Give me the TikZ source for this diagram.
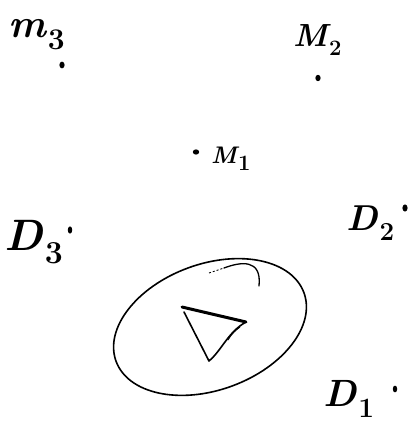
\documentclass[tikz,border=0pt]{standalone}
\usepackage{fontspec}
\newcommand\mylab[4]{\fontsize{#1}{#1}\selectfont\bfseries\itshape #3\kern0.05em\raisebox{-0.3em}{\fontsize{#2}{#2}\selectfont\bfseries\upshape #4}}
\begin{document}
\begin{tikzpicture}[x=1pt,y=-1pt,
  lbl/.style={inner sep=0pt,anchor=base west},
  stroke/.style={line width=1.6pt,line cap=round,line join=round}]
\useasboundingbox (0,0) rectangle (417,423);
% labels
\node[lbl] (m3) at (8,37) {\mylab{40}{30}{m}{3}};
\node[lbl] (m2) at (293,46) {\mylab{32}{22}{M}{2}};
\node[lbl] (m1) at (211,163) {\mylab{24}{22}{M}{1}};
\node[lbl] (d3) at (4,250) {\mylab{44}{32}{D}{3}};
\node[lbl] (d2) at (346,230) {\mylab{36}{26}{D}{2}};
\node[lbl] (d1) at (323,406) {\mylab{38}{28}{D}{1}};
% dots
\fill (62,65) ellipse[x radius=2.6, y radius=3.4] coordinate (pm3);
\fill (318,78) ellipse[x radius=2.6, y radius=3.2] coordinate (pm2);
\fill (196,152) ellipse[x radius=3.2, y radius=2.6] coordinate (pm1);
\fill (70,230) ellipse[x radius=2.2, y radius=3.6] coordinate (pd3);
\fill (405,208) ellipse[x radius=2.6, y radius=3.6] coordinate (pd2);
\fill (395,389) ellipse[x radius=2.2, y radius=3.4] coordinate (pd1);
% ellipse
\draw[stroke] (210,327) ellipse[x radius=100, y radius=63, rotate=20];
% hook arc
\draw[line width=0.9pt,dash pattern=on 2pt off 2pt] (209,273) -- (224,268);
\draw[stroke,line width=1.3pt] (224,268) .. controls (240,262) and (262,258) .. (259,286);
% triangle
\draw[stroke] (184,312) -- (209,361) .. controls (222,350) and (228,332) .. (246,322);
\draw[line width=3pt,line cap=round] (182,307) -- (246,322);
\draw[line width=1pt] (228,340) .. controls (232,333) and (236,330) .. (240,327);
\end{tikzpicture}
\end{document}
